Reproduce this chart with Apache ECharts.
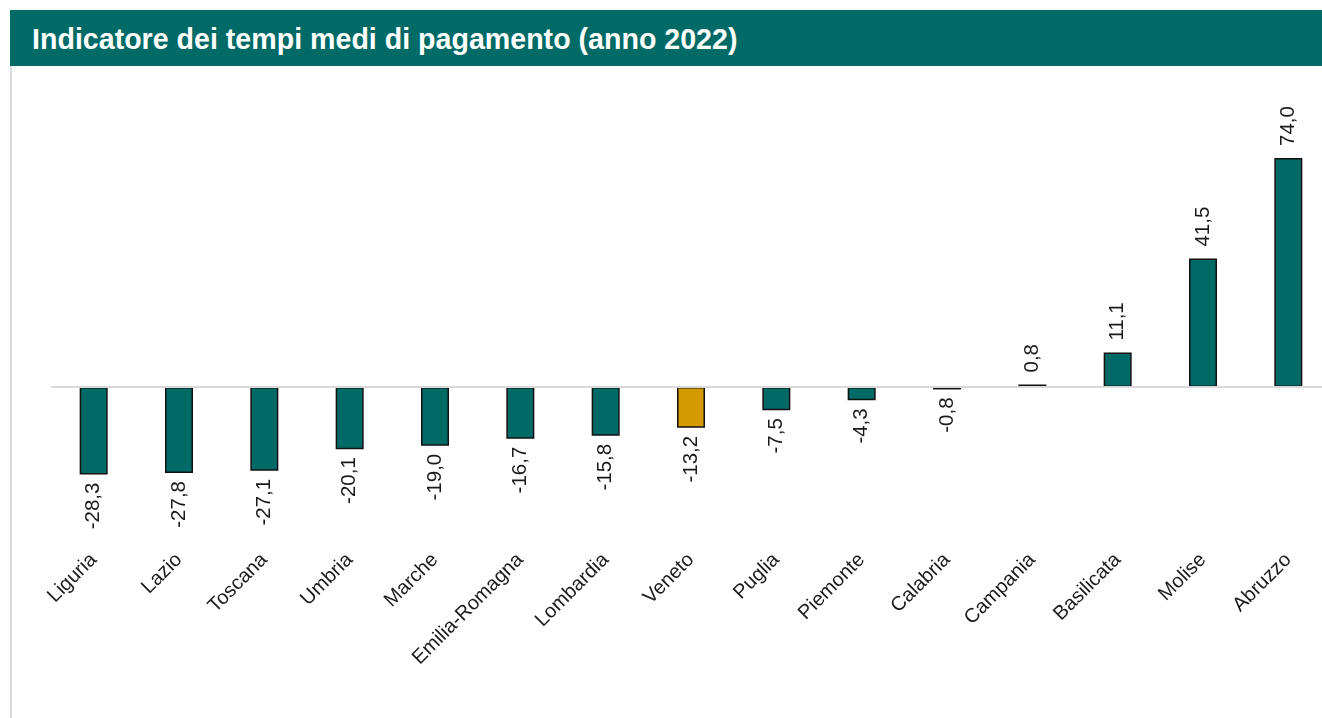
<!DOCTYPE html>
<html>
<head>
<meta charset="utf-8">
<title>Indicatore dei tempi medi di pagamento (anno 2022)</title>
<script src="https://cdn.jsdelivr.net/npm/echarts@6/dist/echarts.min.js"></script>
<style>
  html, body { margin: 0; padding: 0; background: #fff; overflow: hidden; }
  .header {
    position: absolute; left: 10px; top: 10px; width: 1312px; height: 56px;
    background: #006A66; color: #fff;
    font: bold 28.6px "Liberation Sans", Arial, sans-serif;
    line-height: 58px; padding-left: 22px; box-sizing: border-box;
  }
  .frame {
    position: absolute; left: 10px; top: 66px; width: 2px; height: 652px; background: #dcdcdc;
  }
  /* a little wider than the window so the last category isn't squeezed */
  #chart { position: absolute; left: 12px; top: 66px; width: 1330px; height: 652px; }
</style>
</head>
<body>
<div class="header">Indicatore dei tempi medi di pagamento (anno 2022)</div>
<div class="frame"></div>
<div id="chart"></div>
<script>
const regions = ['Liguria', 'Lazio', 'Toscana', 'Umbria', 'Marche', 'Emilia-Romagna', 'Lombardia',
  'Veneto', 'Puglia', 'Piemonte', 'Calabria', 'Campania', 'Basilicata', 'Molise', 'Abruzzo']
const values = [-28.3, -27.8, -27.1, -20.1, -19.0, -16.7, -15.8, -13.2, -7.5, -4.3, -0.8, 0.8, 11.1, 41.5, 74.0]
const highlight = 'Veneto'

const teal = '#006A66'
const gold = '#D49A00'
const fmt = v => v.toFixed(1).replace('.', ',')

const chart = echarts.init(document.getElementById('chart'))

chart.setOption({
  animation: false,
  textStyle: { fontFamily: '"Liberation Sans", Arial, sans-serif' },
  grid: { left: 39, right: 11, top: 73.4, height: 405.4 },
  xAxis: {
    type: 'category',
    data: regions,
    position: 'bottom',
    axisLine: { show: false },
    axisTick: { show: false },
    axisLabel: { rotate: 45, fontSize: 20, color: '#1a1a1a', margin: 12, interval: 0 }
  },
  yAxis: {
    type: 'value',
    min: -51,
    max: 80,
    show: false,
    splitLine: { show: false }
  },
  series: [{
    type: 'bar',
    barWidth: 28,
    data: values.map((v, i) => ({
      value: v,
      itemStyle: { color: regions[i] === highlight ? gold : teal },
      label: v >= 0
        ? { position: 'top', align: 'left', distance: 12 }
        : { position: 'bottom', align: 'right', distance: 8 }
    })),
    itemStyle: { borderColor: '#111', borderWidth: 1.5 },
    label: {
      show: true,
      rotate: 90,
      verticalAlign: 'middle',
      fontSize: 20.5,
      color: '#1a1a1a',
      formatter: p => fmt(p.value)
    },
    markLine: {
      silent: true,
      symbol: 'none',
      label: { show: false },
      lineStyle: { color: '#d9d9d9', width: 2, type: 'solid' },
      data: [{ yAxis: 0 }]
    }
  }]
})
</script>
</body>
</html>
